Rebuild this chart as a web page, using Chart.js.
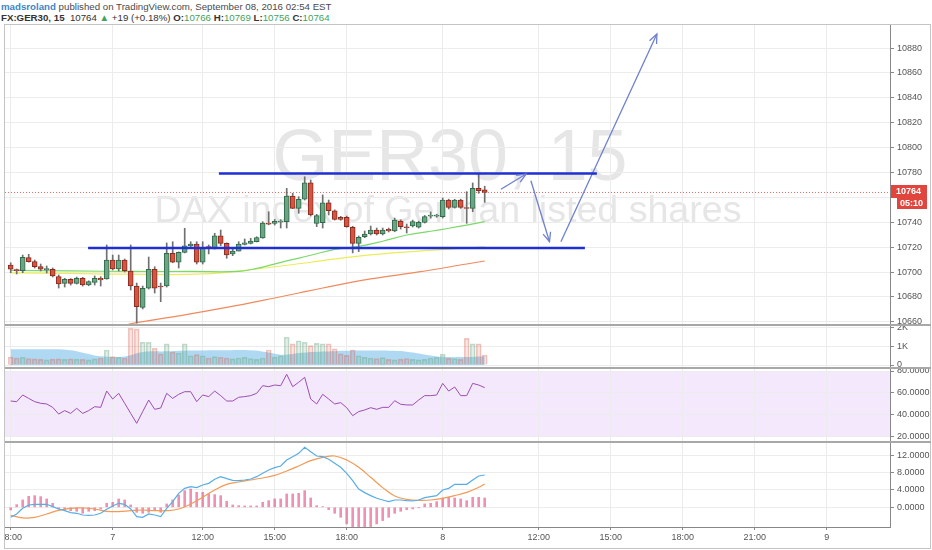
<!DOCTYPE html>
<html><head><meta charset="utf-8">
<script src="https://cdn.jsdelivr.net/npm/chart.js@4.4.0/dist/chart.umd.min.js"></script>
<style>
body{margin:0;width:932px;height:550px;background:#fff;overflow:hidden;position:relative;font-family:"Liberation Sans",Arial,sans-serif}
.hd{position:absolute;left:1px;font-size:9.7px;line-height:11px;color:#4a4a4a;white-space:nowrap}
.g{color:#3fa45e}
.frame{position:absolute;left:4px;top:24px;width:925px;height:523px;border:1px solid #c4c4c4}
.sep{position:absolute;left:5px;width:926px;height:2px;background:#a8a8a8}
canvas{position:absolute;left:5px}
</style></head>
<body>
<div class="hd" style="top:1px"><b style="color:#3d86c6">madsroland</b> published on TradingView.com, September 08, 2016 02:54 EST</div>
<div class="hd" style="top:12px;color:#333"><b>FX:GER30, 15</b>&nbsp; 10764 <span class="g">&#9650;</span> +19 (+0.18%) <b>O:</b><span class="g">10766</span> <b>H:</b><span class="g">10769</span> <b>L:</b><span class="g">10756</span> <b>C:</b><span class="g">10764</span></div>
<div class="frame"></div>
<canvas id="priceChart" width="927" height="299" style="top:25px"></canvas>
<div class="sep" style="top:324px"></div>
<canvas id="volChart" width="927" height="41" style="top:326px"></canvas>
<div class="sep" style="top:367px"></div>
<canvas id="rsiChart" width="927" height="72" style="top:369px"></canvas>
<div class="sep" style="top:441px"></div>
<canvas id="macdChart" width="927" height="105" style="top:443px"></canvas>
<script>
/* DATA - 15 min candles, index 0..79 */
const opens =[10705.7,10701.5,10701.1,10711.6,10708.4,10704.4,10702.0,10702.3,10696.3,10691.0,10694.2,10691.0,10695.0,10689.6,10691.8,10695.0,10694.5,10709.7,10702.5,10709.7,10700.9,10688.8,10671.7,10687.0,10702.3,10688.8,10688.8,10715.1,10707.9,10715.9,10721.0,10722.6,10707.9,10719.9,10718.6,10729.2,10723.1,10714.5,10716.9,10722.3,10723.1,10724.4,10727.4,10739.4,10739.2,10740.1,10740.5,10761.1,10751.2,10758.5,10771.8,10739.2,10739.7,10755.7,10749.3,10744.0,10744.0,10736.0,10723.1,10728.4,10730.6,10733.8,10730.6,10734.4,10733.0,10741.0,10735.7,10737.0,10736.0,10740.0,10745.0,10745.0,10744.5,10757.9,10752.0,10757.9,10751.3,10751.2,10767.3,10766];
const highs =[10707.5,10702.5,10713.7,10714.3,10709.7,10706.5,10704.9,10703.3,10697.7,10695.0,10694.8,10696.0,10695.8,10693.0,10696.9,10696.3,10721.8,10713.7,10713.7,10710.5,10721.8,10691.2,10688.8,10712.1,10704.3,10691.2,10723.4,10724.4,10716.2,10735.2,10724.4,10724.4,10724.4,10721.8,10731.2,10733.8,10723.5,10718.6,10724.4,10726.6,10727.1,10728.4,10740.5,10748.5,10742.3,10742.1,10767.3,10763.3,10760.6,10776.6,10774.0,10746.4,10762.0,10757.9,10750.0,10744.8,10745.0,10736.8,10729.0,10733.0,10737.0,10735.4,10735.4,10735.4,10743.4,10742.0,10738.6,10741.8,10741.0,10745.5,10748.3,10746.5,10759.5,10758.6,10758.5,10758.6,10764.6,10771.6,10779.3,10769];
const lows  =[10699.5,10698.5,10699.5,10708.0,10703.3,10700.9,10699.3,10696.1,10687.2,10688.0,10689.6,10690.4,10688.8,10689.0,10689.6,10688.8,10694.3,10701.7,10700.9,10700.1,10685.6,10659.0,10670.4,10686.4,10683.2,10676.2,10688.0,10707.5,10703.3,10715.4,10720.2,10706.5,10706.5,10714.6,10718.5,10721.2,10711.1,10713.2,10716.9,10721.8,10722.6,10724.2,10727.1,10738.0,10737.8,10735.4,10735.4,10751.0,10747.2,10757.9,10745.0,10736.5,10735.4,10745.9,10741.8,10741.6,10736.0,10715.4,10716.4,10727.6,10729.8,10729.8,10729.8,10732.2,10732.4,10734.6,10731.4,10736.2,10735.4,10739.4,10743.4,10744.0,10743.4,10750.7,10751.4,10751.2,10739.2,10748.5,10763.3,10756];
const closes=[10702.3,10701.2,10711.9,10708.4,10704.4,10702.3,10702.3,10696.9,10690.4,10694.2,10691.0,10695.0,10689.6,10692.3,10695.0,10693.7,10709.7,10702.5,10709.7,10701.1,10688.8,10672.2,10687.0,10702.3,10687.0,10688.0,10715.1,10707.9,10715.9,10721.0,10722.6,10707.9,10719.9,10719.6,10729.2,10723.1,10713.7,10716.9,10722.6,10723.6,10725.0,10727.8,10739.4,10738.4,10740.8,10740.3,10761.1,10751.2,10758.5,10771.8,10745.9,10745.3,10755.7,10749.3,10742.4,10742.4,10736.5,10723.1,10727.9,10730.6,10733.8,10730.6,10733.8,10733.0,10741.8,10736.5,10735.6,10740.5,10740.0,10744.5,10745.2,10745.2,10757.9,10752.0,10757.9,10752.0,10751.1,10767.3,10765.4,10764];
const volumes=[430,380,420,350,330,300,280,320,330,300,330,320,300,280,330,380,810,450,420,380,1980,1950,1230,1230,900,600,1140,700,650,1140,500,560,500,380,450,420,380,330,380,420,350,300,380,810,420,500,1500,1140,1310,1230,1050,1170,1140,1140,870,600,520,810,500,420,380,350,400,300,280,320,350,300,280,300,380,420,580,360,350,300,1440,1140,1140,540];

/* moving averages (candle index, value) */
const greenMaIdx=[0,10,20,30,38,41,46,50,54,58,62,66,70,73,76,79];
const greenMaVal=[10701.3,10700.9,10700.5,10700.5,10700.5,10703.0,10709.0,10713.5,10718.3,10720.6,10724.8,10729.8,10732.8,10735.2,10737.8,10740.5];
const yellowMaIdx=[0,10,20,32,41,50,58,68,79];
const yellowMaVal=[10699.3,10698.9,10698.3,10698.5,10702.5,10707.9,10712.9,10716.9,10720.2];
const orangeMaIdx=[19,20,28,36,44,48,52,60,68,76,79];
const orangeMaVal=[10656.7,10658.5,10664.8,10671.6,10679.2,10683.2,10687.2,10694.5,10700.1,10706.5,10708.9];
const volMaIdx=[0,7,10,13,15,19,22,26,30,36,40,43,45,47,50,54,58,62,66,70,72,76,79];
const volMaVal=[850,850,800,600,470,460,700,740,780,800,800,680,560,600,700,750,780,780,720,520,440,430,470];

/* indicators */
const rsi=[52.6,52.0,58.1,55.0,52.0,50.5,49.9,46.8,40.7,43.8,41.3,45.9,41.3,43.8,47.4,46.8,61.7,54.4,59.6,50.5,41.3,32.2,42.9,53.5,45.0,46.2,59.6,55.0,58.7,61.1,61.1,52.0,58.1,56.6,61.7,57.5,52.6,52.6,56.0,56.6,57.5,59.6,66.6,65.7,67.2,66.6,77.0,65.7,69.7,74.2,54.4,49.9,58.7,54.4,49.9,51.1,46.5,39.2,42.9,44.4,46.5,45.0,46.8,46.8,52.9,49.6,49.0,49.0,53.5,57.5,57.5,58.1,68.7,61.7,65.4,57.5,57.5,68.7,67.2,64.8];
const macd=[-2.30,-1.54,-0.23,0.53,0.69,0.69,0.69,0.15,-0.39,-0.77,-1.23,-1.38,-1.77,-1.84,-1.77,-1.38,-0.46,0.30,0.92,0.69,-0.39,-2.15,-2.30,-1.54,-1.77,-2.15,-0.23,1.30,3.21,4.36,4.75,4.52,5.13,5.51,6.43,7.04,6.58,6.20,6.12,6.28,6.51,7.04,7.81,8.58,9.11,9.50,10.87,11.64,12.41,13.78,12.79,11.79,11.64,11.03,10.11,9.19,7.81,6.12,4.21,3.37,2.68,2.07,1.68,1.30,1.68,1.68,1.53,1.45,1.68,2.22,2.45,2.68,3.98,4.36,5.28,5.28,5.28,6.28,7.20,7.43];
const macdHist=[-0.6,0.61,1.69,2.53,2.68,2.45,1.92,0.92,-0.38,-0.61,-0.77,-0.92,-1.38,-0.92,-0.77,-0.38,0.92,1.15,1.92,1.69,0.54,-1.15,-1.38,-1.15,-0.77,-1.15,0.77,1.69,2.83,3.83,4.21,3.45,3.45,3.06,2.91,2.68,1.38,0.54,0.38,0.31,0.31,0.31,1.15,1.53,1.92,1.92,3.06,3.06,3.22,3.83,2.14,0.38,0.15,-0.54,-1.38,-2.30,-3.83,-4.75,-4.98,-4.75,-4.44,-3.83,-3.06,-2.30,-1.38,-0.92,-0.54,-0.38,-0.08,0.77,0.92,1.30,2.14,2.30,2.14,1.92,1.53,2.30,2.30,2.14];
const signalIdx=[0,2,4,6,8,10,12,14,16,18,20,22,24,26,28,30,32,34,36,38,40,42,44,46,48,50,52,54,56,58,60,62,64,66,68,70,72,74,76,78,79];
const signalVal=[-1.84,-2.45,-2.30,-1.54,-0.69,-0.23,-0.16,-0.39,-0.92,-1.0,-0.77,-0.62,-0.77,-0.77,-0.39,0.76,2.30,3.98,5.28,5.82,6.28,6.74,7.35,8.35,9.50,10.72,11.49,11.79,10.87,9.19,6.89,4.52,2.60,1.84,1.61,1.68,2.07,2.68,3.44,4.59,5.36];

/* drawings: levels and arrows (candle index, price) */
const upperLevel={from:34.7,to:97.7,price:10779.2};
const lowerLevel={from:12.9,to:95.7,price:10719.4};
const arrows=[
  [[81.7,10766.5],[85.9,10778.8]],
  [[86.7,10773.4],[89.8,10724.4]],
  [[91.7,10724.4],[107.7,10891.2]]
];

/* axes */
const xMin=-0.95, xMax=146.55;
const xTicks=[0,17,32,44,56,72,88,100,112,124,136];
const xLabels=['18:00','7','12:00','15:00','18:00','8','12:00','15:00','18:00','21:00','9'];
const priceTicks=[10660,10680,10700,10720,10740,10760,10780,10800,10820,10840,10860,10880];
const volTicks=[0,1000,2000];
const rsiTicks=[20,40,60,80];
const macdTicks=[0,4,8,12];
const lastClose=10764, countdown='05:10';
const wmTitle='GER30, 15', wmSub='DAX index of German listed shares';

Chart.defaults.font.family='"Liberation Sans", Arial, sans-serif';
Chart.defaults.animation=false;

const UP='#6ba583',DOWN='#d75442';
const pts=(ix,vals)=>ix.map((x,i)=>({x,y:vals[i]}));

function xAxis(show){
  return {type:'linear',min:xMin,max:xMax,offset:false,
    afterBuildTicks:s=>{s.ticks=xTicks.map(v=>({value:v}))},
    afterFit:s=>{s.paddingLeft=0;s.paddingRight=0;s.height=show?21:0},
    grid:{color:'#ececec',offset:false,drawTicks:show,tickLength:3,tickColor:'#888'},
    border:{display:show,color:'#888'},
    ticks:{display:show,autoSkip:false,maxRotation:0,padding:2,color:'#555',font:{size:9},callback:(v,i)=>xLabels[i]}};
}
function yAxis(min,max,ticks,fmt){
  return {position:'right',min,max,
    afterBuildTicks:s=>{s.ticks=ticks.map(v=>({value:v}))},
    afterFit:s=>{s.width=42;s.paddingTop=0;s.paddingBottom=0},
    grid:{color:'#ececec',tickLength:4,tickColor:'#888'},
    border:{color:'#888'},
    ticks:{color:'#555',font:{size:9},padding:3,autoSkip:false,callback:fmt}};
}
const baseOpts=(scales)=>({responsive:false,devicePixelRatio:1,animation:false,
  layout:{padding:0},events:[],
  plugins:{legend:{display:false},tooltip:{enabled:false}},scales});

/* PLUGINS */
const watermark={id:'watermark',beforeDraw(c){
  const ctx=c.ctx;
  const put=(t,w,cx,by)=>{
    ctx.font='100px "Liberation Sans"';
    const s=100*w/ctx.measureText(t).width;
    ctx.font=s+'px "Liberation Sans"';ctx.fillText(t,cx,by);
  };
  ctx.save();ctx.fillStyle='#e6e6e6';ctx.textAlign='center';ctx.textBaseline='alphabetic';
  put(wmTitle,355,445,155);
  put(wmSub,587,443,197);
  ctx.restore();
}};
const arrowHeads={id:'arrowHeads',afterDatasetsDraw(c){
  const ctx=c.ctx;
  c.data.datasets.forEach((d,k)=>{
    if(!d.arrow)return;
    const el=c.getDatasetMeta(k).data,a=el[el.length-2],b=el[el.length-1];
    const ang=Math.atan2(b.y-a.y,b.x-a.x),L=10;
    ctx.save();ctx.strokeStyle=d.borderColor;ctx.lineWidth=d.borderWidth;
    ctx.beginPath();
    ctx.moveTo(b.x-L*Math.cos(ang-0.4),b.y-L*Math.sin(ang-0.4));
    ctx.lineTo(b.x,b.y);
    ctx.lineTo(b.x-L*Math.cos(ang+0.4),b.y-L*Math.sin(ang+0.4));
    ctx.stroke();ctx.restore();
  });
}};
const priceTag={id:'priceTag',afterDraw(c){
  const ctx=c.ctx,y=Math.round(c.scales.y.getPixelForValue(lastClose)),r=c.chartArea.right;
  ctx.save();
  ctx.fillStyle='#e0463e';ctx.fillRect(r+1,y-7,36,13);ctx.fillRect(r+7,y+6,30,11);
  ctx.fillStyle='#fff';ctx.font='bold 9px "Liberation Sans"';ctx.textBaseline='middle';ctx.textAlign='left';
  ctx.fillText(String(lastClose),r+6,y);ctx.fillText(countdown,r+10,y+11.5);
  ctx.restore();
}};
const rsiBand={id:'rsiBand',beforeDraw(c){
  const s=c.scales.y,a=c.chartArea,t=s.getPixelForValue(80),b=s.getPixelForValue(20);
  c.ctx.save();c.ctx.fillStyle='#f4e8fc';c.ctx.fillRect(a.left,t,a.right-a.left,b-t);c.ctx.restore();
}};

/* PRICE PANE */
const line=(data,color,w,order,extra)=>Object.assign({type:'line',data,borderColor:color,borderWidth:w,pointRadius:0,order,fill:false},extra||{});
const candleColor=(i,a,b)=>closes[i]>=opens[i]?a:b;
new Chart(priceChart,{
  type:'line',
  data:{datasets:[
    {type:'bar',data:closes.map((c,i)=>({x:i,y:[opens[i],c]})),grouped:false,barThickness:5,minBarLength:1,
     backgroundColor:closes.map((c,i)=>candleColor(i,UP,DOWN)),
     borderColor:closes.map((c,i)=>candleColor(i,'#2f6b4a','#8a2a1f')),borderWidth:1,borderSkipped:false,order:1},
    {type:'bar',data:lows.map((l,i)=>({x:i,y:[l,highs[i]]})),grouped:false,barThickness:1,backgroundColor:'#707070',order:2},
    line(pts(greenMaIdx,greenMaVal),'#7bd96a',1.2,3,{tension:0.4}),
    line(pts(yellowMaIdx,yellowMaVal),'#ecec5a',1.2,3,{tension:0.4}),
    line(pts(orangeMaIdx,orangeMaVal),'#f08a5d',1.2,3,{tension:0.4}),
    line([{x:xMin,y:lastClose},{x:xMax,y:lastClose}],'#e8675e',1,4,{borderDash:[1,2]}),
    line([{x:upperLevel.from,y:upperLevel.price},{x:upperLevel.to,y:upperLevel.price}],'#1f2fd6',2.5,0),
    line([{x:lowerLevel.from,y:lowerLevel.price},{x:lowerLevel.to,y:lowerLevel.price}],'#1f2fd6',2.5,0),
    ...arrows.map(a=>line(a.map(p=>({x:p[0],y:p[1]})),'#6f80d0',1.3,0,{arrow:true}))
  ]},
  options:baseOpts({x:xAxis(false),y:yAxis(10658.3,10898.5,priceTicks,v=>Math.abs(v-lastClose)<8?'':String(v))}),
  plugins:[watermark,arrowHeads,priceTag]
});

/* VOLUME PANE */
new Chart(volChart,{
  type:'line',
  data:{datasets:[
    {type:'bar',data:volumes.map((v,i)=>({x:i,y:v})),grouped:false,barThickness:5,
     backgroundColor:volumes.map((v,i)=>candleColor(i,'rgba(107,165,131,0.18)','rgba(215,84,66,0.15)')),
     borderColor:volumes.map((v,i)=>candleColor(i,'rgba(107,165,131,0.4)','rgba(215,84,66,0.32)')),borderWidth:1,order:1},
    line(pts(volMaIdx,volMaVal),'rgba(0,0,0,0)',0,2,{fill:'origin',backgroundColor:'rgba(122,192,234,0.6)',tension:0.4})
  ]},
  options:baseOpts({x:xAxis(false),y:yAxis(-108,2108,volTicks,v=>v===0?'0':(v/1000)+'K')})
});

/* RSI PANE */
new Chart(rsiChart,{
  type:'line',
  data:{datasets:[line(rsi.map((v,i)=>({x:i,y:v})),'#9b4fb0',1,1)]},
  options:baseOpts({x:xAxis(false),y:yAxis(16.07,81.83,rsiTicks,v=>v.toFixed(4))}),
  plugins:[rsiBand]
});

/* MACD PANE */
new Chart(macdChart,{
  type:'line',
  data:{datasets:[
    {type:'bar',data:macdHist.map((v,i)=>({x:i,y:v})),grouped:false,barThickness:2,backgroundColor:'rgba(226,72,128,0.6)',order:3},
    line(macd.map((v,i)=>({x:i,y:v})),'#58ade6',1.2,1),
    line(pts(signalIdx,signalVal),'#f39a55',1.2,2,{tension:0.4})
  ]},
  options:baseOpts({x:xAxis(true),y:yAxis(-4.53,14.78,macdTicks,v=>v.toFixed(4))})
});
</script>
</body></html>
